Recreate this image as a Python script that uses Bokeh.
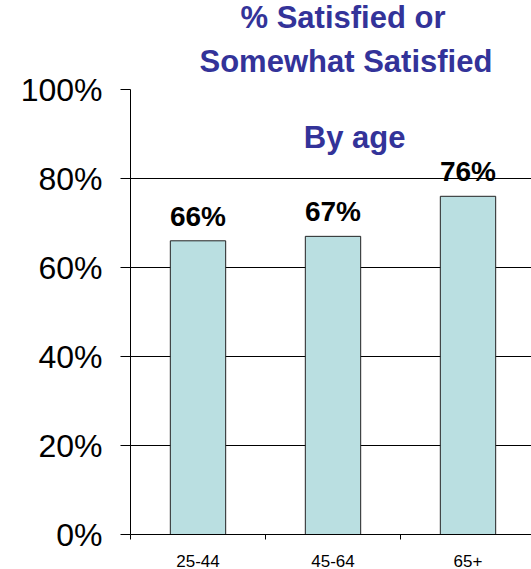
from bokeh.plotting import figure
from bokeh.models import Range1d, FixedTicker, ColumnDataSource, LabelSet, Label, Title
from bokeh.core.properties import value
from bokeh.embed import file_html
from bokeh.resources import INLINE

categories = ["25-44", "45-64", "65+"]
values = [0.66, 0.67, 0.76]
value_labels = ["66%", "67%", "76%"]
y_ticks = [0, 0.2, 0.4, 0.6, 0.8, 1.0]
y_tick_labels = ["0%", "20%", "40%", "60%", "80%", "100%"]
title_lines = ["% Satisfied or", "Somewhat Satisfied"]
subtitle = "By age"

FONT = "Liberation Sans"
TITLE_COLOR = "#333399"

xs = [i + 0.5 for i in range(len(categories))]
src = ColumnDataSource(dict(x=xs, top=values, lab=value_labels))

p = figure(width=531, height=569, output_backend="svg", toolbar_location=None,
           x_range=Range1d(0, 401 / 135), y_range=Range1d(0, 1),
           min_border_left=130, min_border_right=0, min_border_top=89, min_border_bottom=32)
p.outline_line_color = None
p.background_fill_color = "white"

# first title line (outer)
p.title.text = title_lines[0]
p.title.align = "left"
p.title.offset = 110
p.title.text_font = FONT
p.title.text_font_style = "bold"
p.title.text_font_size = "31px"
p.title.text_color = TITLE_COLOR
p.title.standoff = -9
# second title line (next to the frame)
p.add_layout(Title(text=title_lines[1], align="left", offset=69, text_font=FONT,
                   text_font_style="bold", text_font_size="31px",
                   text_color=TITLE_COLOR, standoff=22), "above")

p.vbar(x="x", top="top", bottom=0, width=0.41, source=src,
       fill_color="#BADFE1", line_color="#222222", line_width=1)

p.add_layout(LabelSet(x="x", y="top", text="lab", source=src, y_offset=15,
                      text_align="center", text_baseline="alphabetic",
                      text_font=value(FONT), text_font_style="bold", text_font_size="28px",
                      text_color="black"))

# Y axis
yt = FixedTicker(ticks=y_ticks)
p.yaxis.ticker = yt
p.yaxis.major_label_overrides = {t: l for t, l in zip(y_ticks, y_tick_labels)}
p.yaxis.major_label_text_font = FONT
p.yaxis.major_label_text_font_size = "32px"
p.yaxis.major_label_text_color = "black"
p.yaxis.major_tick_out = 10
p.yaxis.major_tick_in = 0
p.yaxis.minor_tick_out = 0
p.yaxis.minor_tick_in = 0
p.yaxis.major_label_standoff = 18
p.yaxis.axis_line_color = "black"
p.yaxis.major_tick_line_color = "black"

p.ygrid.ticker = yt
p.ygrid.grid_line_color = "black"
p.ygrid.grid_line_width = 1
p.xgrid.grid_line_color = None

# X axis: labels at centers, tick marks at boundaries
xt = FixedTicker(ticks=xs, minor_ticks=[float(i) for i in range(len(categories) + 1)])
p.xaxis.ticker = xt
p.xaxis.major_label_overrides = {x: c for x, c in zip(xs, categories)}
p.xaxis.major_label_text_font = FONT
p.xaxis.major_label_text_font_size = "17px"
p.xaxis.major_label_text_color = "black"
p.xaxis.major_tick_out = 0
p.xaxis.major_tick_in = 0
p.xaxis.minor_tick_out = 5
p.xaxis.minor_tick_in = 0
p.xaxis.minor_tick_line_color = "black"
p.xaxis.major_label_standoff = 15
p.xaxis.axis_line_color = "black"

p.add_layout(Label(x=1.66, y=0.892, text=subtitle, text_align="center",
                   text_baseline="alphabetic", text_font=FONT, text_font_style="bold",
                   text_font_size="31px", text_color=TITLE_COLOR))

open("out.html", "w").write(file_html(p, INLINE))
